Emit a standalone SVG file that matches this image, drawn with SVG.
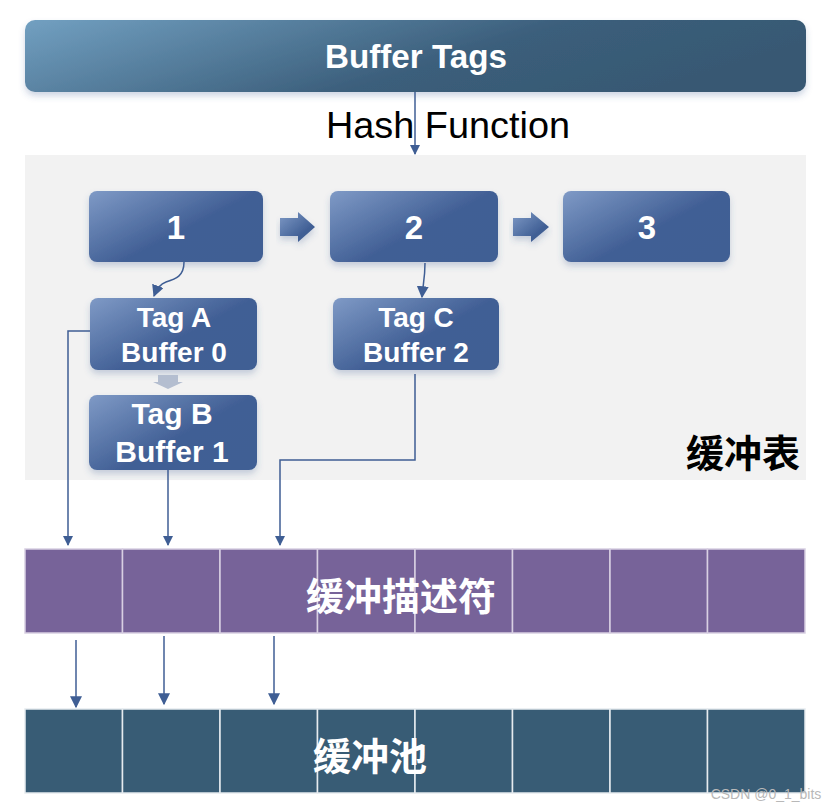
<svg xmlns="http://www.w3.org/2000/svg" width="833" height="810" viewBox="0 0 833 810">
<defs>
<linearGradient id="gTop" x1="0" y1="0" x2="1" y2="0.3">
<stop offset="0" stop-color="#72a0c1"/>
<stop offset="0.65" stop-color="#3b5e7b"/>
<stop offset="1" stop-color="#375973"/>
</linearGradient>
<linearGradient id="gNode" x1="0" y1="0" x2="1" y2="0.8">
<stop offset="0" stop-color="#7f9ac6"/>
<stop offset="0.6" stop-color="#415f95"/>
<stop offset="1" stop-color="#3f5e94"/>
</linearGradient>
<linearGradient id="gBlk" x1="0" y1="0" x2="1" y2="1">
<stop offset="0" stop-color="#7f9ac6"/>
<stop offset="0.7" stop-color="#3f5e94"/>
</linearGradient>
<filter id="sh" x="-10%" y="-10%" width="120%" height="140%">
<feDropShadow dx="0" dy="4" stdDeviation="3" flood-color="#3f5e94" flood-opacity="0.25"/>
</filter>
<marker id="ah" viewBox="0 0 10 10" refX="9" refY="5" markerWidth="10" markerHeight="10" markerUnits="userSpaceOnUse" orient="auto">
<path d="M0,0 L10,5 L0,10 Z" fill="#3f5e94"/>
</marker>
<marker id="ahL" viewBox="0 0 10 10" refX="9" refY="5" markerWidth="12" markerHeight="12" markerUnits="userSpaceOnUse" orient="auto">
<path d="M0,0 L10,5 L0,10 Z" fill="#3f5e94"/>
</marker>
</defs>
<style>
.node{fill:url(#gNode);filter:url(#sh)}
.lbl{font-family:"Liberation Sans",Arial,sans-serif;font-weight:bold;fill:#fff;text-anchor:middle}
.cjk{font-family:"Noto Sans CJK SC","Liberation Sans",sans-serif;font-weight:bold;text-anchor:middle}
.ln{fill:none;stroke:#3f5e94;stroke-width:1.5}
.desc{fill:#776399;stroke:#d8cfe2;stroke-width:1.5}
.pool{fill:#385c75;stroke:#e6ebef;stroke-width:1.5}
</style>

<rect x="25" y="155" width="781" height="325" fill="#f2f2f2"/>

<g id="bufferTags">
<rect x="25" y="20" width="781" height="72" rx="10" fill="url(#gTop)" filter="url(#sh)"/>
<text class="lbl" x="416" y="68" font-size="33" textLength="182" lengthAdjust="spacingAndGlyphs">Buffer Tags</text>
</g>

<g id="hashLabel">
<text x="448" y="138" font-family="Liberation Sans,Arial,sans-serif" font-size="37" fill="#000" text-anchor="middle" textLength="244" lengthAdjust="spacingAndGlyphs">Hash Function</text>
</g>

<g id="n1"><rect class="node" x="89" y="191" width="174" height="71" rx="8"/><text class="lbl" x="176" y="239" font-size="33">1</text></g>
<g id="n2"><rect class="node" x="330" y="191" width="168" height="71" rx="8"/><text class="lbl" x="414" y="239" font-size="33">2</text></g>
<g id="n3"><rect class="node" x="563" y="191" width="167" height="71" rx="8"/><text class="lbl" x="647" y="239" font-size="33">3</text></g>

<g id="tagA"><rect class="node" x="90" y="298" width="167" height="72" rx="8"/>
<text class="lbl" x="174" y="327" font-size="28">Tag A</text>
<text class="lbl" x="174" y="362" font-size="28">Buffer 0</text></g>
<g id="tagB"><rect class="node" x="89" y="395" width="168" height="75" rx="8"/>
<text class="lbl" x="172" y="424" font-size="30">Tag B</text>
<text class="lbl" x="172" y="462" font-size="30">Buffer 1</text></g>
<g id="tagC"><rect class="node" x="333" y="298" width="166" height="72" rx="8"/>
<text class="lbl" x="416" y="327" font-size="28">Tag C</text>
<text class="lbl" x="416" y="362" font-size="28">Buffer 2</text></g>

<g id="tableLabel"><text class="cjk" x="743" y="467" font-size="38" fill="#000">缓冲表</text></g>

<g id="descRow">
<rect class="desc" x="25" y="549" width="97.5" height="84"/>
<rect class="desc" x="122.5" y="549" width="97.5" height="84"/>
<rect class="desc" x="220" y="549" width="97.5" height="84"/>
<rect class="desc" x="317.5" y="549" width="97.5" height="84"/>
<rect class="desc" x="415" y="549" width="97.5" height="84"/>
<rect class="desc" x="512.5" y="549" width="97.5" height="84"/>
<rect class="desc" x="610" y="549" width="97.5" height="84"/>
<rect class="desc" x="707.5" y="549" width="97.5" height="84"/>
<text class="cjk" x="401" y="610" font-size="38" fill="#fff">缓冲描述符</text>
</g>

<g id="poolRow">
<rect class="pool" x="25" y="709" width="97.5" height="84"/>
<rect class="pool" x="122.5" y="709" width="97.5" height="84"/>
<rect class="pool" x="220" y="709" width="97.5" height="84"/>
<rect class="pool" x="317.5" y="709" width="97.5" height="84"/>
<rect class="pool" x="415" y="709" width="97.5" height="84"/>
<rect class="pool" x="512.5" y="709" width="97.5" height="84"/>
<rect class="pool" x="610" y="709" width="97.5" height="84"/>
<rect class="pool" x="707.5" y="709" width="97.5" height="84"/>
<text class="cjk" x="370" y="770" font-size="38" fill="#fff">缓冲池</text>
</g>

<g id="connectors">
<line class="ln" x1="415" y1="92" x2="415" y2="154" marker-end="url(#ah)"/>
<path d="M280,218 H298 V212 L315,227 L298,242 V236 H280 Z" fill="url(#gBlk)" filter="url(#sh)"/>
<path d="M513,218 H531 V212 L549,227 L531,242 V236 H513 Z" fill="url(#gBlk)" filter="url(#sh)"/>
<path d="M158,375 H178 V382 H183 L168,389 L153,382 H158 Z" fill="#b4bed0"/>
<path class="ln" d="M184,262 C184,276 176,279 166,282 C160,284 157,288 154,296" marker-end="url(#ahL)"/>
<path class="ln" d="M425,263 C425,278 423,284 422,297" marker-end="url(#ahL)"/>
<path class="ln" d="M90,331 H68 V545" marker-end="url(#ah)"/>
<path class="ln" d="M168,470 V545" marker-end="url(#ah)"/>
<path class="ln" d="M415,374 V460 H280 V545" marker-end="url(#ah)"/>
<line class="ln" x1="76" y1="640" x2="76" y2="707" marker-end="url(#ahL)"/>
<line class="ln" x1="164" y1="636" x2="164" y2="704" marker-end="url(#ahL)"/>
<line class="ln" x1="274" y1="636" x2="274" y2="704" marker-end="url(#ahL)"/>
</g>

<text x="766" y="799" font-family="Liberation Sans,Arial,sans-serif" font-size="14" fill="#b8b8b8" text-anchor="middle">CSDN @0_1_bits</text>
</svg>
